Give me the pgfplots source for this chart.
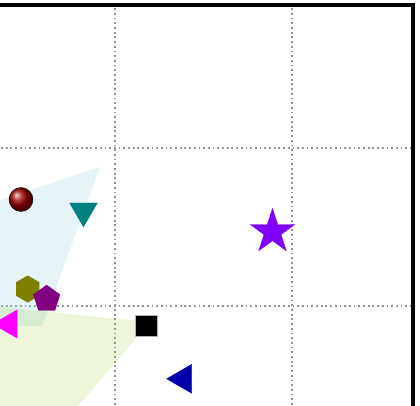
\documentclass[border=0pt]{standalone}
\usepackage{pgfplots}
\pgfplotsset{compat=1.18}
\usetikzlibrary{plotmarks}
\pgfdeclareplotmark{hexagon*}{%
  \pgfpathmoveto{\pgfpointpolar{90}{\pgfplotmarksize}}%
  \pgfpathlineto{\pgfpointpolar{150}{\pgfplotmarksize}}%
  \pgfpathlineto{\pgfpointpolar{210}{\pgfplotmarksize}}%
  \pgfpathlineto{\pgfpointpolar{270}{\pgfplotmarksize}}%
  \pgfpathlineto{\pgfpointpolar{330}{\pgfplotmarksize}}%
  \pgfpathlineto{\pgfpointpolar{30}{\pgfplotmarksize}}%
  \pgfpathclose\pgfusepathqfillstroke}
\pgfdeclareplotmark{fstar*}{%
  \pgfpathmoveto{\pgfpointpolar{90}{\pgfplotmarksize}}%
  \pgfpathlineto{\pgfpointpolar{126}{0.382\pgfplotmarksize}}%
  \pgfpathlineto{\pgfpointpolar{162}{\pgfplotmarksize}}%
  \pgfpathlineto{\pgfpointpolar{198}{0.382\pgfplotmarksize}}%
  \pgfpathlineto{\pgfpointpolar{234}{\pgfplotmarksize}}%
  \pgfpathlineto{\pgfpointpolar{270}{0.382\pgfplotmarksize}}%
  \pgfpathlineto{\pgfpointpolar{306}{\pgfplotmarksize}}%
  \pgfpathlineto{\pgfpointpolar{342}{0.382\pgfplotmarksize}}%
  \pgfpathlineto{\pgfpointpolar{18}{\pgfplotmarksize}}%
  \pgfpathlineto{\pgfpointpolar{54}{0.382\pgfplotmarksize}}%
  \pgfpathclose\pgfusepathqfillstroke}
\definecolor{pblue}{RGB}{173,216,230}
\definecolor{pgreen}{RGB}{154,205,50}
\definecolor{cteal}{RGB}{0,128,128}
\definecolor{cviolet}{RGB}{128,0,255}
\definecolor{colive}{RGB}{128,128,0}
\definecolor{cpurple}{RGB}{128,0,128}
\definecolor{cmagenta}{RGB}{255,0,255}
\definecolor{cdblue}{RGB}{0,0,170}
\definecolor{cdred}{RGB}{160,0,0}
\begin{document}
\begin{tikzpicture}
\path[use as bounding box, clip] (0,0) rectangle (420pt,406pt);
\begin{axis}[
  at={(-60pt,-60pt)}, anchor=south west,
  x=1pt, y=1pt,
  xmin=-60, xmax=413.3, ymin=-60, ymax=401.3,
  xtick={115,292}, ytick={100,258},
  xticklabels={}, yticklabels={},
  major tick length=0pt,
  grid=major,
  major grid style={gray!85, line width=1.2pt, dash pattern=on 1.8pt off 2.9pt},
  axis line style={black, line width=3.8pt},
  clip=false,
]
\addplot[fill=pblue, fill opacity=0.3, draw=none] coordinates {(100,239) (42,80) (-60,80) (-60,186)} -- cycle;
\addplot[fill=pgreen, fill opacity=0.18, draw=none] coordinates {(-60,105) (150,84) (27,-60) (-60,-60)} -- cycle;
\addplot[only marks, mark=ball, mark size=12, mark options={ball color=cdred, draw=none}] coordinates {(21,206.5)};
\addplot[only marks, mark=triangle*, mark size=16, mark options={rotate=180, fill=cteal, draw=cteal, line width=0.3pt}] coordinates {(83.5,195)};
\addplot[only marks, mark=fstar*, mark size=23.5, mark options={fill=cviolet, draw=cviolet, line width=0.3pt}] coordinates {(272.5,174.2)};
\addplot[only marks, mark=hexagon*, mark size=13.3, mark options={fill=colive, draw=colive, line width=0.3pt}] coordinates {(27.7,117)};
\addplot[only marks, mark=pentagon*, mark size=14, mark options={fill=cpurple, draw=cpurple, line width=0.3pt}] coordinates {(46.7,107)};
\addplot[only marks, mark=triangle*, mark size=16.3, mark options={rotate=90, fill=cmagenta, draw=cmagenta, line width=0.3pt}] coordinates {(9,82)};
\addplot[only marks, mark=square*, mark size=10.8, mark options={fill=black, draw=gray!60, line width=0.5pt}] coordinates {(146,80.2)};
\addplot[only marks, mark=triangle*, mark size=16.7, mark options={rotate=90, fill=cdblue, draw=cdblue, line width=0.3pt}] coordinates {(183.3,27.2)};
\end{axis}
\end{tikzpicture}
\end{document}
